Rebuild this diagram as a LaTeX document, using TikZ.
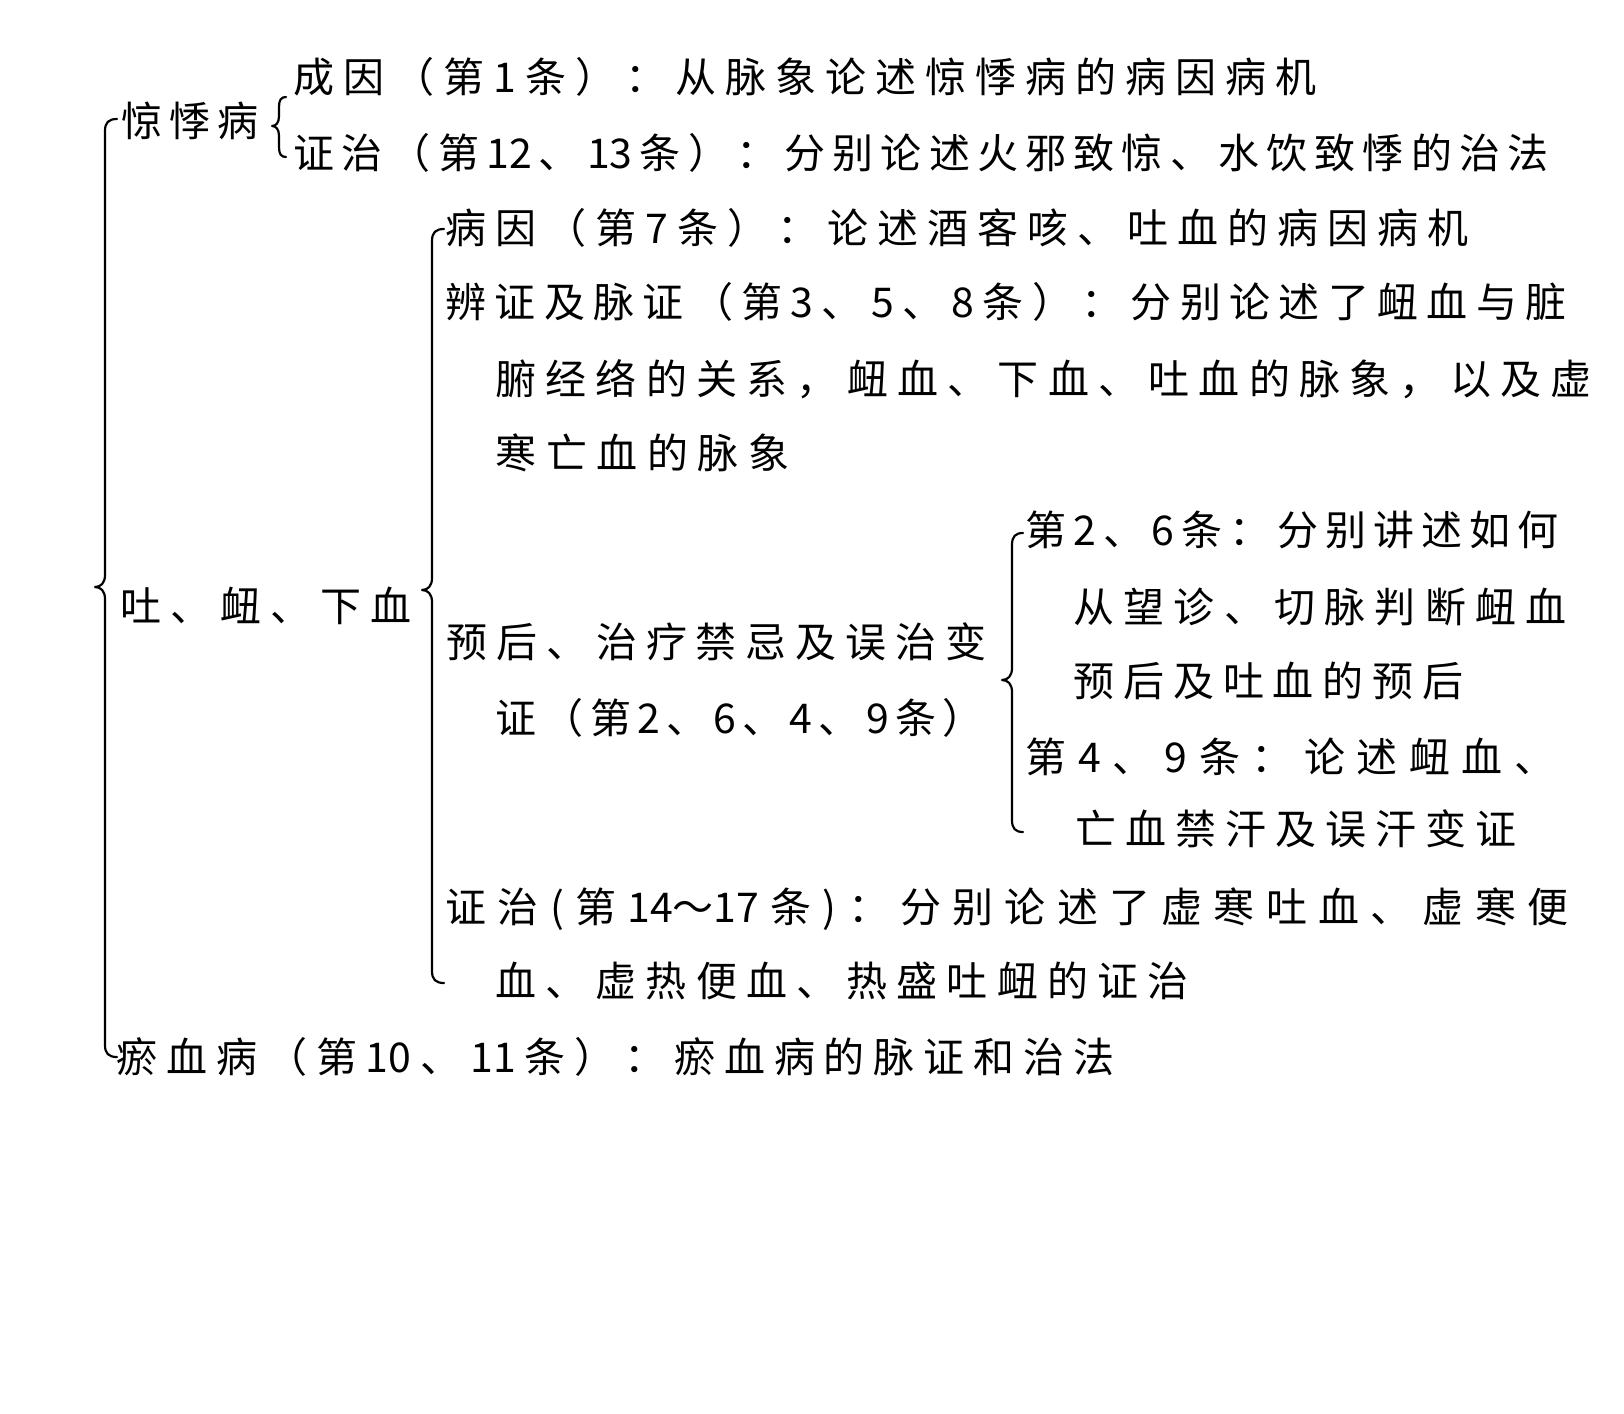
\documentclass[tikz,border=0pt]{standalone}
\usepackage{fontspec}
\newfontfamily\cjk{Noto Sans CJK SC}
\makeatletter
\def\sp@end{\sp@end}
\newcommand\spreadtxt[1]{\sp@first#1\sp@end}
\def\sp@first#1{#1\sp@loop}
\def\sp@loop#1{\ifx\sp@end#1\else\hfill#1\expandafter\sp@loop\fi}
\makeatother
% text line: name, left, right, centre y, text
\newcommand\tline[5]{%
  \pgfmathsetlengthmacro\tlw{(#3-#2+3)*1pt}%
  \node[txt] (#1) at ({#2-1.5},{#4+15.6}) {\makebox[\tlw][s]{\spreadtxt{#5}}};}
% brace: x, top, mid, bottom, curl width, cusp depth, curl radius
\newcommand\mybrace[7]{%
  \draw[bracestyle] ({#1+#5},#2) .. controls ({#1+0.3*#5},#2) and (#1,{#2+0.3*#7}) .. (#1,{#2+#7})
   -- (#1,{#3-#7}) .. controls (#1,{#3-0.35*#7}) and ({#1-0.4*#6},#3) .. ({#1-#6},#3)
   .. controls ({#1-0.4*#6},#3) and (#1,{#3+0.35*#7}) .. (#1,{#3+#7})
   -- (#1,{#4-#7}) .. controls (#1,{#4-0.3*#7}) and ({#1+0.3*#5},#4) .. ({#1+#5},#4);}
\begin{document}
\begin{tikzpicture}[x=1pt,y=-1pt,
  txt/.style={inner sep=0pt,outer sep=0pt,anchor=base west,font=\cjk\fontsize{41}{41}\selectfont,text=black},
  bracestyle/.style={draw=black,line width=2.2pt,line cap=round,line join=round}]
\fill[white] (0,0) rectangle (1624,1413);
\useasboundingbox (0,0) rectangle (1624,1413);

\tline{n1}{295}{1315}{77}{成因（第1条）：从脉象论述惊悸病的病因病机}
\tline{jjb}{123}{257}{121}{惊悸病}
\tline{n2}{295}{1547}{153}{证治（第{12}、{13}条）：分别论述火邪致惊、水饮致悸的治法}
\tline{n3}{447}{1467}{228}{病因（第7条）：论述酒客咳、吐血的病因病机}
\tline{n4}{447}{1565}{302}{辨证及脉证（第3、5、8条）：分别论述了衄血与脏}
\tline{n5}{497}{1590}{379}{腑经络的关系，衄血、下血、吐血的脉象，以及虚}
\tline{n6}{497}{788}{453}{寒亡血的脉象}
\tline{tnx}{122}{410}{606}{吐、衄、下血}
\tline{n7}{448}{985}{642}{预后、治疗禁忌及误治变}
\tline{n8}{497}{982}{718}{证（第2、6、4、9条）}
\tline{s1}{1027}{1557}{530}{第2、6条：分别讲述如何}
\tline{s2}{1075}{1565}{607}{从望诊、切脉判断衄血}
\tline{s3}{1075}{1462}{681}{预后及吐血的预后}
\tline{s4}{1027}{1554}{757}{第4、9条：论述衄血、}
\tline{s5}{1077}{1515}{829}{亡血禁汗及误汗变证}
\tline{n9}{447}{1567}{907}{证治(第{14～17}条)：分别论述了虚寒吐血、虚寒便}
\tline{n10}{497}{1187}{981}{血、虚热便血、热盛吐衄的证治}
\tline{yx}{118}{1113}{1057}{瘀血病（第{10}、{11}条）：瘀血病的脉证和治法}

\mybrace{105}{119}{587}{1057}{12}{10}{12}
\mybrace{279}{97}{126}{157}{7}{7}{10}
\mybrace{432}{229}{590}{983}{12}{10}{12}
\mybrace{1012}{533}{680}{832}{11}{10}{12}
\end{tikzpicture}
\end{document}
